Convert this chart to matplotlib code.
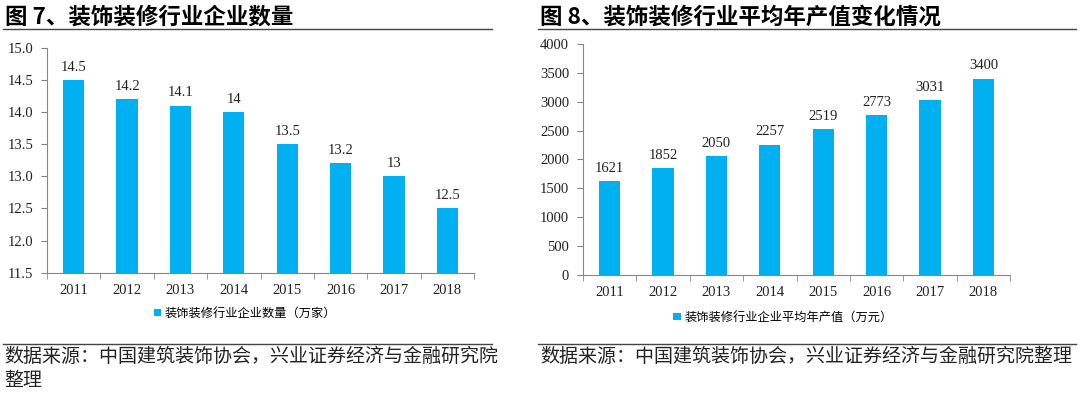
import numpy as np
import matplotlib
matplotlib.use('Agg')
from matplotlib import pyplot as plt
from matplotlib.lines import Line2D

plt.rcParams['font.family'] = ['Liberation Serif', 'Noto Sans CJK SC', 'DejaVu Sans']

# data
years = ['2011', '2012', '2013', '2014', '2015', '2016', '2017', '2018']
firms = [14.5, 14.2, 14.1, 14, 13.5, 13.2, 13, 12.5]
firm_labels = ['14.5', '14.2', '14.1', '14', '13.5', '13.2', '13', '12.5']
output = [1621, 1852, 2050, 2257, 2519, 2773, 3031, 3400]

title_left = '图 7、装饰装修行业企业数量'
title_right = '图 8、装饰装修行业平均年产值变化情况'
legend_left = '装饰装修行业企业数量（万家）'
legend_right = '装饰装修行业企业平均年产值（万元）'
source_left = '数据来源：中国建筑装饰协会，兴业证券经济与金融研究院\n整理'
source_right = '数据来源：中国建筑装饰协会，兴业证券经济与金融研究院整理'

bar_color = '#00B0F0'
axis_color = '#868686'
cjk = ['Noto Sans CJK SC', 'DejaVu Sans']

fig = plt.figure(figsize=(10.8, 3.96), dpi=100)
W, H = 1080.0, 396.0


def px_axes(x0, y0, x1, y1):
    # pixel box (top-left origin) -> axes
    return fig.add_axes([x0 / W, 1 - y1 / H, (x1 - x0) / W, (y1 - y0) / H])


def style(ax, ymin, ymax, step, fmt):
    x = np.arange(len(years))
    ax.set_xlim(-0.5, len(years) - 0.5)
    ax.set_ylim(ymin, ymax)
    ax.set_yticks(np.arange(ymin, ymax + step / 2, step))
    ax.set_yticklabels([fmt.format(v) for v in np.arange(ymin, ymax + step / 2, step)])
    ax.set_xticks(x)
    ax.set_xticklabels(years)
    ax.set_xticks(np.arange(-0.5, len(years)), minor=True)
    ax.tick_params(axis='x', which='major', length=0, pad=8, labelsize=10.5, colors='#222222')
    ax.tick_params(axis='x', which='minor', length=4, color=axis_color, direction='out')
    ax.tick_params(axis='y', length=4, color=axis_color, direction='out', labelsize=10.5,
                   labelcolor='#222222', pad=6)
    for s in ['top', 'right']:
        ax.spines[s].set_visible(False)
    for s in ['left', 'bottom']:
        ax.spines[s].set_color(axis_color)
        ax.spines[s].set_linewidth(0.8)


# left chart
ax1 = px_axes(47, 47.7, 474, 272.7)
b1 = ax1.bar(np.arange(len(years)), firms, width=0.4, color=bar_color, label=legend_left)
style(ax1, 11.5, 15.0, 0.5, '{:.1f}')
for i, v in enumerate(firms):
    ax1.annotate(firm_labels[i], (i, v), xytext=(0, 4.5), textcoords='offset points',
                 ha='center', va='bottom', fontsize=10.5, color='#222222')
ax1.legend(loc='center', bbox_to_anchor=(0.464, -0.18), frameon=False, handlelength=0.6,
           handleheight=0.6, handletextpad=0.3, prop={'family': cjk, 'size': 8.8})

# right chart
ax2 = px_axes(583, 44, 1010, 274.7)
b2 = ax2.bar(np.arange(len(years)), output, width=0.4, color=bar_color, label=legend_right)
style(ax2, 0, 4000, 500, '{:.0f}')
for i, v in enumerate(output):
    ax2.annotate(str(v), (i, v), xytext=(0, 4.5), textcoords='offset points',
                 ha='center', va='bottom', fontsize=10.5, color='#222222')
ax2.legend(loc='center', bbox_to_anchor=(0.468, -0.185), frameon=False, handlelength=0.6,
           handleheight=0.6, handletextpad=0.3, prop={'family': cjk, 'size': 8.8})

# titles, rules and sources
fig.text(5 / W, 1 - 17 / H, title_left, ha='left', va='center', fontsize=16.2,
         fontweight='bold', family=cjk)
fig.text(540 / W, 1 - 17 / H, title_right, ha='left', va='center', fontsize=16.2,
         fontweight='bold', family=cjk)
for x0, x1 in [(3, 492), (538, 1076)]:
    for yy in [29, 344]:
        fig.add_artist(Line2D([x0 / W, x1 / W], [1 - yy / H, 1 - yy / H],
                              color='#444444', linewidth=1.0))
fig.text(4 / W, 1 - 346 / H, source_left, ha='left', va='top', fontsize=13.7,
         family=cjk, color='#222222', linespacing=1.2)
fig.text(540 / W, 1 - 346 / H, source_right, ha='left', va='top', fontsize=13.7,
         family=cjk, color='#222222')

fig.savefig('out.png', dpi=100)
plt.close()
